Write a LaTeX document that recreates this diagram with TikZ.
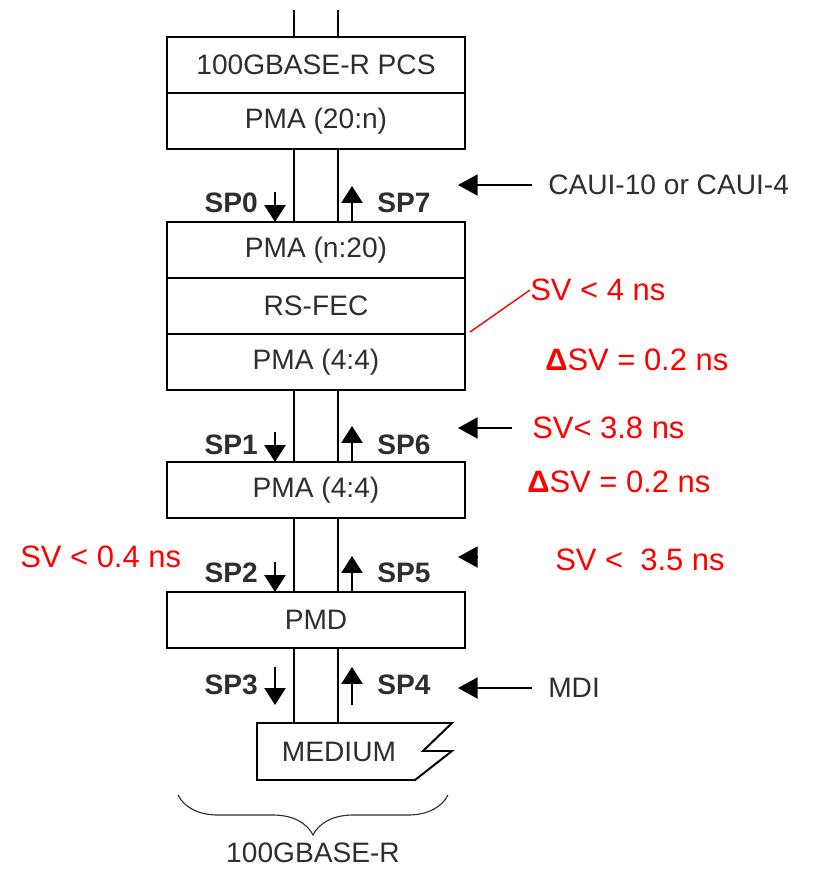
\documentclass[tikz,border=0pt]{standalone}
\usepackage{fontspec}
\setmainfont{Liberation Sans}
\usepackage{tikz}
\usetikzlibrary{arrows.meta,calc,positioning,decorations.pathreplacing}
\definecolor{inkgray}{RGB}{45,45,50}
\definecolor{svred}{RGB}{255,0,0}

\begin{document}
\begin{tikzpicture}[x=0.025cm,y=-0.025cm,
    layer/.style={draw,line width=1.4pt,minimum width=7.45cm,minimum height=1.4cm,
      inner sep=0pt,outer sep=0pt,text=inkgray,font=\fontsize{20}{24}\selectfont},
    link/.style={line width=1.4pt},
    splabel/.style={text=inkgray,font=\fontsize{20}{24}\selectfont\bfseries,inner sep=0pt},
    sparrow/.style={line width=1.2pt,-{Triangle[length=12pt,width=15pt]}},
    ifarrow/.style={line width=1.2pt,-{Triangle[length=14pt,width=15pt]}},
    iflabel/.style={text=inkgray,font=\fontsize{20}{24}\selectfont,inner sep=0pt,anchor=west},
    svnote/.style={text=svred,font=\fontsize{22}{26}\selectfont,inner sep=0pt,anchor=west}]
    \useasboundingbox (0,0) rectangle (812,870);
    % layer stack
    \node[layer] (pcs) at (316,65) {100GBASE-R PCS};
    \node[layer,below=0pt of pcs] (pmaa) {PMA (20:n)};
    \node[layer] (pmab) at (316,250) {PMA (n:20)};
    \node[layer,below=0pt of pmab] (fec) {RS-FEC};
    \node[layer,below=0pt of fec] (pmac) {PMA (4:4)};
    \node[layer] (pmad) at (316,490) {PMA (4:4)};
    \node[layer] (pmd) at (316,620) {PMD};
    % lanes between the layers
    \coordinate (dl) at (294,0);
    \coordinate (ul) at (338,0);
    \coordinate (sa) at (275,0);
    \coordinate (sb) at (352,0);
    \coordinate (dtop) at (294,10);
    \coordinate (utop) at (338,10);
    \coordinate (medtl) at (257,723);
    \draw[link] (dtop) -- (dtop |- pcs.north);
    \draw[link] (utop) -- (utop |- pcs.north);
    \foreach \a/\b in {pmaa/pmab,pmac/pmad,pmad/pmd} {
        \draw[link] (\a.south -| dl) -- (\b.north -| dl);
        \draw[link] (\a.south -| ul) -- (\b.north -| ul);
    }
    \draw[link] (pmd.south -| dl) -- (dl |- medtl);
    \draw[link] (pmd.south -| ul) -- (ul |- medtl);
    % medium
    \draw[link,line join=miter] (medtl) -- (452,723) -- (423,751) -- (452,751)
        -- (415,780) -- (257,780) -- cycle;
    \node[text=inkgray,font=\fontsize{20}{24}\selectfont] (medium) at (339,752) {MEDIUM};
    % service points
    \foreach \dn/\up/\tgt/\ypos in {0/7/pmab/203,1/6/pmad/445,2/5/pmd/573} {
        \node[splabel,anchor=east] (sp\dn) at (258,\ypos) {SP\dn};
        \node[splabel,anchor=west] (sp\up) at (377,\ypos) {SP\up};
        \draw[sparrow] (\tgt.north -| sa) ++(0,-30) -- (\tgt.north -| sa);
        \draw[sparrow] (\tgt.north -| sb) -- ++(0,-36);
    }
    \node[splabel,anchor=east] (sp3) at (258,685) {SP3};
    \node[splabel,anchor=west] (sp4) at (377,685) {SP4};
    \draw[sparrow] (sp3.east -| sa) ++(0,-18) -- ++(0,38);
    \draw[sparrow] (sp4.west -| sb) ++(0,20) -- ++(0,-38);
    % interfaces
    \coordinate (iftip) at (458,185);
    \node[iflabel] (caui) at (548,185) {CAUI-10 or CAUI-4};
    \draw[ifarrow] (caui.west) ++(-16,0) -- (iftip);
    \node[iflabel] (mdi) at (548,688) {MDI};
    \draw[ifarrow] (mdi.west) ++(-16,0) -- (mdi.west -| iftip);
    % skew notes
    \node[svnote] (sv4) at (530,290) {SV < 4 ns};
    \node[svnote] (dsva) at (545,360) {{\bfseries Δ}SV = 0.2 ns};
    \node[svnote] (sv38) at (532,428) {SV< 3.8 ns};
    \node[svnote] (dsvb) at (527,482) {{\bfseries Δ}SV = 0.2 ns};
    \node[svnote] (sv35) at (555,560) {SV <\ \ 3.5 ns};
    \node[svnote] (sv04) at (20,557) {SV < 0.4 ns};
    \coordinate (fecmark) at (470,332);
    \draw[svred,line width=1pt] (fecmark) -- (sv4.west);
    \draw[ifarrow] (sv38.west) ++(-20,0) -- (sv38.west -| iftip);
    \coordinate (lonetail) at (478,557);
    \draw[ifarrow] (lonetail) -- (lonetail -| iftip);
    % brace
    \coordinate (bracer) at (448,795);
    \coordinate (bracel) at (178,795);
    \draw[decorate,decoration={brace,amplitude=1cm},line width=0.8pt,inkgray] (bracer) -- (bracel);
    \node[text=inkgray,font=\fontsize{20}{24}\selectfont] (phy) at (313,853) {100GBASE-R};
\end{tikzpicture}
\end{document}
